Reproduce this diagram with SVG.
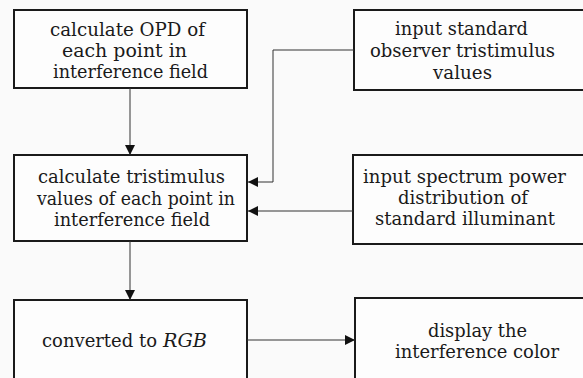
<svg xmlns="http://www.w3.org/2000/svg" width="583" height="378" viewBox="0 0 583 378">
  <style>
    .box { fill: #fdfdfd; stroke: #1a1a1a; stroke-width: 2; }
    .lbl { font-family: "DejaVu Serif", "Liberation Serif", serif; font-size: 18px; fill: #1a1a1a; }
    .it { font-style: italic; }
    .wire { fill: none; stroke: #333; stroke-width: 1; }
  </style>
  <defs>
    <marker id="arrow" viewBox="0 0 10 10" refX="10" refY="5" markerWidth="10" markerHeight="10" markerUnits="userSpaceOnUse" orient="auto">
      <path d="M0,0 L10,5 L0,10 z" fill="#111"/>
    </marker>
  </defs>
  <rect width="583" height="378" fill="#fafafa"/>

  <g id="opd">
    <rect class="box" x="14" y="10" width="233" height="78"/>
    <text class="lbl" x="50" y="36" textLength="155" lengthAdjust="spacingAndGlyphs">calculate OPD of</text>
    <text class="lbl" x="62" y="57" textLength="125" lengthAdjust="spacingAndGlyphs">each point in</text>
    <text class="lbl" x="53" y="78" textLength="155" lengthAdjust="spacingAndGlyphs">interference field</text>
  </g>

  <g id="observer">
    <rect class="box" x="354" y="10" width="240" height="80"/>
    <text class="lbl" x="395" y="35" textLength="133" lengthAdjust="spacingAndGlyphs">input standard</text>
    <text class="lbl" x="370" y="57" textLength="185" lengthAdjust="spacingAndGlyphs">observer tristimulus</text>
    <text class="lbl" x="433" y="79" textLength="59" lengthAdjust="spacingAndGlyphs">values</text>
  </g>

  <g id="tristimulus">
    <rect class="box" x="14" y="155" width="233" height="86"/>
    <text class="lbl" x="38" y="183" textLength="187" lengthAdjust="spacingAndGlyphs">calculate tristimulus</text>
    <text class="lbl" x="37" y="205" textLength="198" lengthAdjust="spacingAndGlyphs">values of each point in</text>
    <text class="lbl" x="54" y="226" textLength="156" lengthAdjust="spacingAndGlyphs">interference field</text>
  </g>

  <g id="illuminant">
    <rect class="box" x="353" y="155" width="240" height="89"/>
    <text class="lbl" x="363" y="183" textLength="203" lengthAdjust="spacingAndGlyphs">input spectrum power</text>
    <text class="lbl" x="398" y="204" textLength="130" lengthAdjust="spacingAndGlyphs">distribution of</text>
    <text class="lbl" x="375" y="225" textLength="180" lengthAdjust="spacingAndGlyphs">standard illuminant</text>
  </g>

  <g id="rgb">
    <rect class="box" x="14" y="300" width="233" height="90"/>
    <text class="lbl" x="42" y="347" textLength="115" lengthAdjust="spacingAndGlyphs">converted to</text>
    <text class="lbl it" x="163" y="347" textLength="44" lengthAdjust="spacingAndGlyphs">RGB</text>
  </g>

  <g id="display">
    <rect class="box" x="355" y="298" width="240" height="90"/>
    <text class="lbl" x="428" y="337" textLength="99" lengthAdjust="spacingAndGlyphs">display the</text>
    <text class="lbl" x="395" y="358" textLength="164" lengthAdjust="spacingAndGlyphs">interference color</text>
  </g>

  <g id="connectors">
    <path class="wire" d="M130,88 V155" marker-end="url(#arrow)"/>
    <path class="wire" d="M354,50 H273 V182 H248" marker-end="url(#arrow)"/>
    <path class="wire" d="M353,211 H248" marker-end="url(#arrow)"/>
    <path class="wire" d="M130,241 V300" marker-end="url(#arrow)"/>
    <path class="wire" d="M247,340 H355" marker-end="url(#arrow)"/>
  </g>
</svg>
